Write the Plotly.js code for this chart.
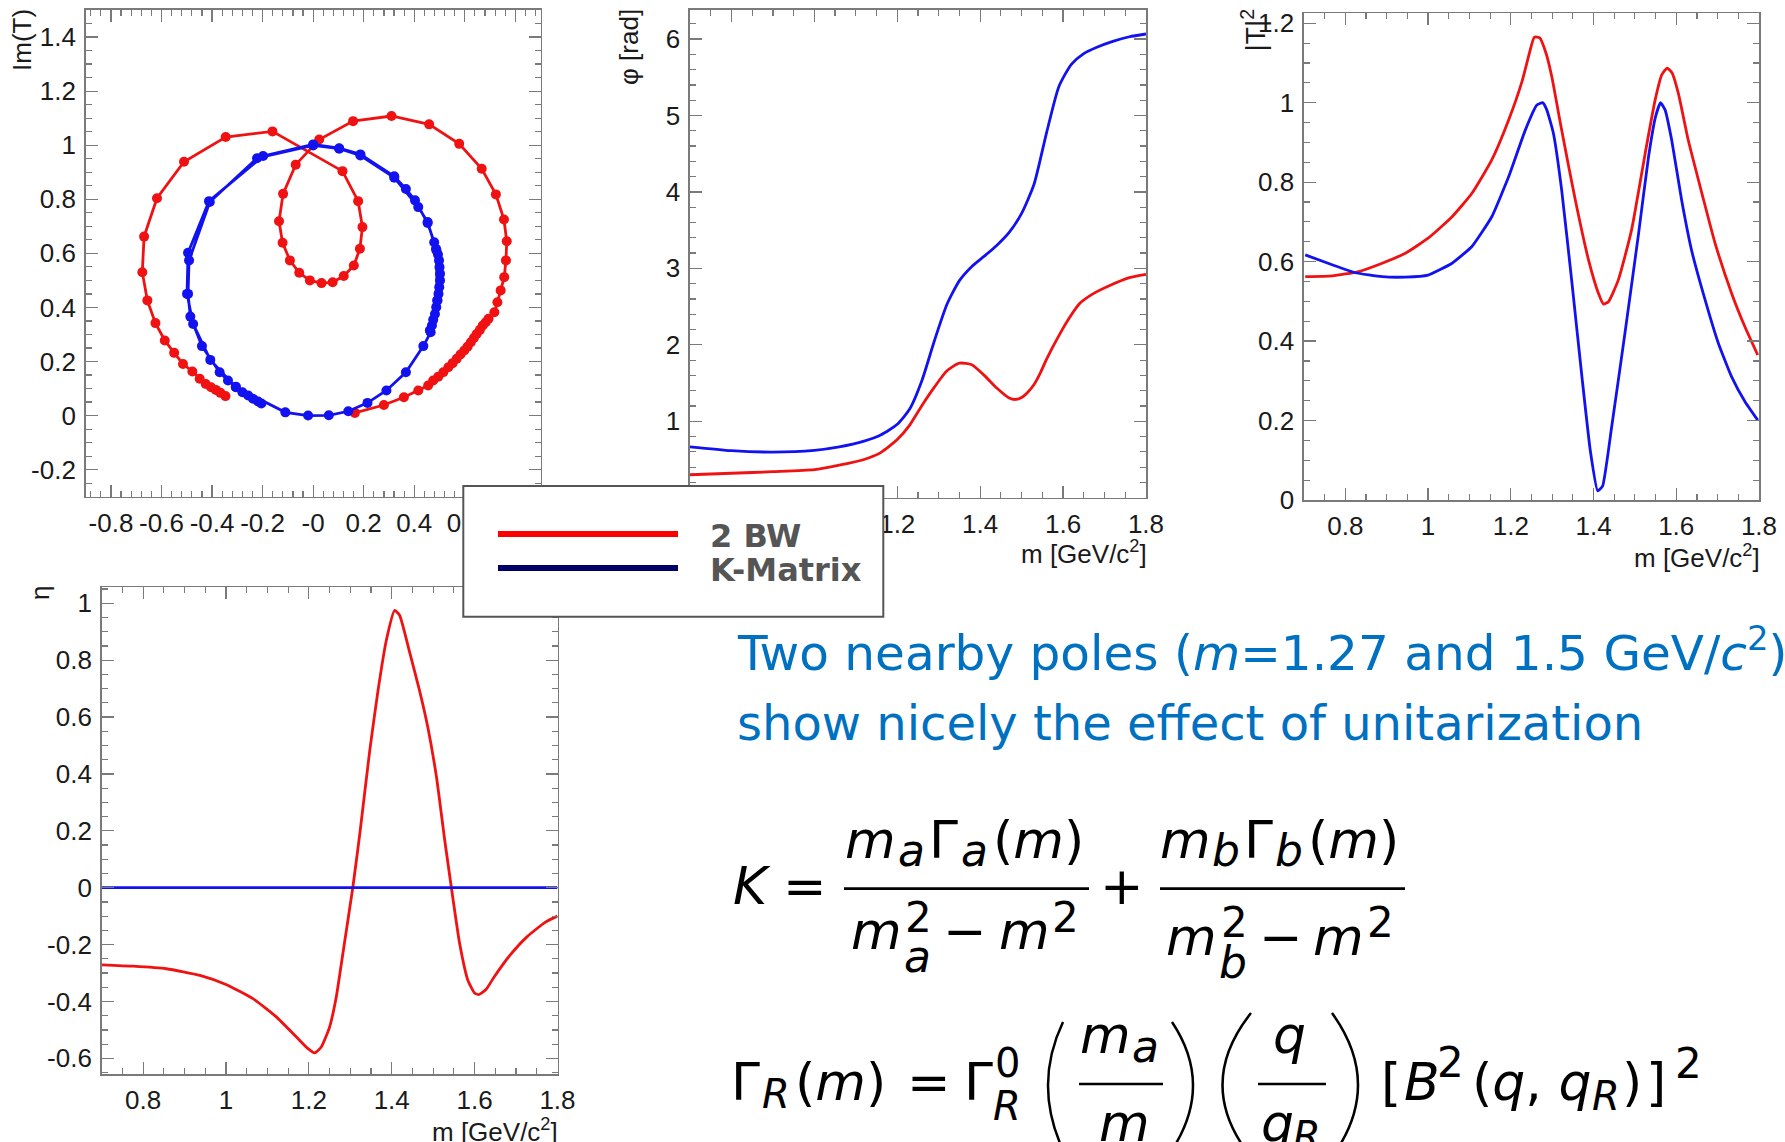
<!DOCTYPE html>
<html><head><meta charset="utf-8">
<script src="https://cdn.plot.ly/plotly-3.0.1.min.js"></script>
<style>html,body{margin:0;padding:0;background:#fff;overflow:hidden}</style>
</head><body><div id="chart" style="width:1785px;height:1142px"></div>
<script>
// ---------------- DATA ----------------
// Argand diagram (Re T, Im T)
const argandRe2BW = [0.165,0.280,0.359,0.416,0.455,0.475,0.495,0.515,0.535,0.552,0.568,0.583,0.598,0.611,0.624,0.636,0.647,0.660,0.671,0.683,0.694,0.717,0.729,0.742,0.756,0.763,0.766,0.755,0.723,0.667,0.578,0.459,0.310,0.158,0.024,-0.069,-0.119,-0.135,-0.121,-0.092,-0.055,-0.013,0.033,0.077,0.121,0.161,0.185,0.195,0.178,0.116,-0.161,-0.346,-0.511,-0.618,-0.669,-0.676,-0.656,-0.624,-0.587,-0.550,-0.515,-0.478,-0.449,-0.425,-0.404,-0.385,-0.367,-0.347];
const argandIm2BW = [0.010,0.039,0.068,0.093,0.111,0.130,0.144,0.160,0.179,0.194,0.210,0.226,0.241,0.255,0.271,0.287,0.302,0.317,0.333,0.345,0.358,0.382,0.419,0.463,0.512,0.574,0.645,0.725,0.818,0.913,1.005,1.077,1.108,1.089,1.021,0.928,0.820,0.719,0.639,0.574,0.528,0.500,0.490,0.493,0.516,0.555,0.617,0.697,0.793,0.904,1.051,1.030,0.939,0.804,0.662,0.530,0.426,0.342,0.278,0.232,0.191,0.163,0.136,0.117,0.105,0.095,0.084,0.072];
const argandReKM = [0.462,0.470,0.475,0.482,0.487,0.492,0.496,0.499,0.502,0.502,0.500,0.498,0.494,0.486,0.479,0.453,0.403,0.367,0.321,0.187,0.103,0.000,-0.198,-0.412,-0.495,-0.499,-0.475,-0.407,-0.306,-0.110,-0.020,0.062,0.139,0.215,0.290,0.367,0.436,0.465,0.491,0.488,0.453,0.416,0.321,0.187,0.103,0.000,-0.222,-0.409,-0.491,-0.495,-0.486,-0.440,-0.370,-0.337,-0.306,-0.280,-0.257,-0.238,-0.218,-0.205];
const argandImKM = [0.315,0.333,0.354,0.376,0.401,0.426,0.450,0.475,0.500,0.524,0.549,0.574,0.596,0.617,0.641,0.712,0.796,0.838,0.885,0.966,0.989,1.003,0.960,0.793,0.602,0.450,0.339,0.206,0.105,0.012,0.000,0.001,0.016,0.047,0.093,0.160,0.257,0.308,0.426,0.611,0.716,0.771,0.880,0.962,0.987,0.999,0.952,0.790,0.574,0.450,0.366,0.257,0.160,0.130,0.107,0.086,0.074,0.062,0.052,0.045];

// Phase phi [rad] vs m
const mPhase2BW = [0.70,0.80,0.90,1.00,1.06,1.12,1.16,1.20,1.23,1.26,1.29,1.32,1.35,1.38,1.41,1.44,1.47,1.485,1.50,1.515,1.53,1.545,1.56,1.59,1.615,1.64,1.67,1.71,1.76,1.80];
const phase2BW  = [0.30,0.32,0.34,0.366,0.425,0.50,0.59,0.76,0.95,1.21,1.45,1.66,1.76,1.74,1.60,1.435,1.305,1.285,1.31,1.38,1.48,1.63,1.81,2.12,2.35,2.54,2.66,2.77,2.88,2.923];
const mPhaseKM  = [0.70,0.80,0.90,1.00,1.06,1.12,1.16,1.20,1.23,1.26,1.29,1.32,1.35,1.38,1.41,1.44,1.47,1.50,1.53,1.56,1.59,1.62,1.65,1.68,1.72,1.76,1.80];
const phaseKM   = [0.665,0.615,0.597,0.62,0.665,0.74,0.82,0.96,1.16,1.54,2.06,2.53,2.84,3.025,3.16,3.30,3.47,3.72,4.10,4.77,5.38,5.67,5.81,5.89,5.97,6.03,6.066];

// |T|^2 vs m
const mInt2BW = [0.703,0.768,0.832,0.889,0.945,1.000,1.058,1.106,1.154,1.195,1.227,1.245,1.257,1.270,1.285,1.299,1.323,1.356,1.388,1.412,1.424,1.436,1.460,1.492,1.525,1.549,1.565,1.578,1.590,1.605,1.629,1.662,1.694,1.734,1.766,1.797];
const int2BW  = [0.562,0.564,0.575,0.596,0.621,0.659,0.713,0.772,0.856,0.957,1.053,1.125,1.165,1.163,1.125,1.066,0.931,0.755,0.604,0.520,0.493,0.499,0.554,0.680,0.873,1.007,1.070,1.087,1.075,1.024,0.906,0.772,0.646,0.520,0.436,0.365];
const mIntKM  = [0.703,0.768,0.824,0.889,0.945,1.000,1.058,1.106,1.154,1.195,1.235,1.263,1.277,1.287,1.303,1.323,1.348,1.372,1.392,1.410,1.422,1.444,1.476,1.509,1.533,1.550,1.562,1.573,1.589,1.613,1.637,1.670,1.702,1.734,1.766,1.797];
const intKM   = [0.617,0.592,0.572,0.562,0.561,0.566,0.596,0.638,0.713,0.814,0.931,0.994,1.000,0.982,0.923,0.780,0.545,0.310,0.126,0.023,0.035,0.185,0.420,0.671,0.864,0.965,1.000,0.982,0.906,0.755,0.629,0.503,0.394,0.310,0.248,0.201];

// Inelasticity eta vs m
const mEta2BW = [0.700,0.776,0.856,0.937,1.000,1.065,1.122,1.170,1.198,1.214,1.230,1.250,1.266,1.282,1.306,1.323,1.347,1.367,1.387,1.407,1.419,1.443,1.467,1.487,1.508,1.528,1.544,1.564,1.584,1.600,1.610,1.628,1.648,1.684,1.727,1.771,1.800];
const eta2BW  = [-0.271,-0.276,-0.285,-0.308,-0.340,-0.390,-0.455,-0.525,-0.566,-0.581,-0.560,-0.490,-0.385,-0.232,0.000,0.190,0.483,0.694,0.870,0.975,0.958,0.829,0.694,0.565,0.389,0.166,0.000,-0.197,-0.326,-0.370,-0.376,-0.357,-0.312,-0.240,-0.172,-0.121,-0.100];
const mEtaKM  = [0.70,1.80];
const etaKM   = [0,0];

// Tick labels
const argXTicks = [-0.8,-0.6,-0.4,-0.2,0,0.2,0.4,0.6,0.8];
const argXText  = ['-0.8','-0.6','-0.4','-0.2','-0','0.2','0.4','0.6','0.8'];
const argYTicks = [-0.2,0,0.2,0.4,0.6,0.8,1,1.2,1.4];
const argYText  = ['-0.2','0','0.2','0.4','0.6','0.8','1','1.2','1.4'];
const mTicks    = [0.8,1,1.2,1.4,1.6,1.8];
const mText     = ['0.8','1','1.2','1.4','1.6','1.8'];
const phaseTicks= [1,2,3,4,5,6];
const phaseText = ['1','2','3','4','5','6'];
const intTicks  = [0,0.2,0.4,0.6,0.8,1,1.2];
const intText   = ['0','0.2','0.4','0.6','0.8','1','1.2'];
const etaTicks  = [-0.6,-0.4,-0.2,0,0.2,0.4,0.6,0.8,1];
const etaText   = ['-0.6','-0.4','-0.2','0','0.2','0.4','0.6','0.8','1'];
const seriesNames = ['2 BW','K-Matrix'];

// ---------------- STYLE / LAYOUT ----------------
const W = 1785, H = 1142;
const px = x => x / W;
const py = y => 1 - y / H;
const RED = '#f01212', BLUE = '#1212f0';
const LS = 'Liberation Sans, Arial, sans-serif';
const TICKFONT = {family:LS, size:26, color:'#1a1a1a'};

function axis(dom, range, tv, tt, minorDt, isX, anchor) {
  return {
    domain: dom, range: range, anchor: anchor,
    tickmode:'array', tickvals: tv, ticktext: tt,
    showline:true, linecolor:'#7a7a7a', linewidth:1.6, mirror:'ticks',
    ticks:'inside', ticklen:12, tickwidth:1.2, tickcolor:'#7a7a7a',
    minor:{tickmode:'linear', tick0:0, dtick:minorDt, ticks:'inside', ticklen:6, tickwidth:1.2, tickcolor:'#7a7a7a', showgrid:false},
    showgrid:false, zeroline:false, tickfont: TICKFONT,
    ticklabelstandoff: isX ? 2 : 3
  };
}

const traces = [
  {x:argandRe2BW, y:argandIm2BW, xaxis:'x', yaxis:'y', mode:'lines+markers', name:seriesNames[0], line:{color:RED, width:2.8}, marker:{color:RED, size:10}},
  {x:argandReKM, y:argandImKM, xaxis:'x', yaxis:'y', mode:'lines+markers', name:seriesNames[1], line:{color:BLUE, width:2.8}, marker:{color:BLUE, size:10}},
  {x:mPhase2BW, y:phase2BW, xaxis:'x2', yaxis:'y2', mode:'lines', name:seriesNames[0], line:{color:RED, width:2.8, shape:'spline', smoothing:0.6}},
  {x:mPhaseKM, y:phaseKM, xaxis:'x2', yaxis:'y2', mode:'lines', name:seriesNames[1], line:{color:BLUE, width:2.8, shape:'spline', smoothing:0.6}},
  {x:mInt2BW, y:int2BW, xaxis:'x3', yaxis:'y3', mode:'lines', name:seriesNames[0], line:{color:RED, width:2.8, shape:'spline', smoothing:0.5}},
  {x:mIntKM, y:intKM, xaxis:'x3', yaxis:'y3', mode:'lines', name:seriesNames[1], line:{color:BLUE, width:2.8, shape:'spline', smoothing:0.4}},
  {x:mEta2BW, y:eta2BW, xaxis:'x4', yaxis:'y4', mode:'lines', name:seriesNames[0], line:{color:RED, width:2.8, shape:'spline', smoothing:0.5}},
  {x:mEtaKM, y:etaKM, xaxis:'x4', yaxis:'y4', mode:'lines', name:seriesNames[1], line:{color:BLUE, width:2.8}}
];

// annotation helpers (positions in page pixels)
function T(text, x, base, size, o) {
  o = o || {};
  return {text:text, xref:'paper', yref:'paper', x:px(x), y:py(base - 0.346*size),
    xanchor:o.anchor||'left', yanchor:'middle', showarrow:false, borderpad:0, borderwidth:0,
    font:{family:o.family||'DejaVu Sans', size:size, color:o.color||'#000'}};
}
function R(text, xc, top, size) {
  return {text:text, xref:'paper', yref:'paper', x:px(xc), y:py(top), xanchor:'center', yanchor:'top',
    textangle:-90, showarrow:false, borderpad:0, borderwidth:0,
    font:{family:LS, size:size, color:'#1a1a1a'}};
}
const annotations = [
  R('Im(T)', 22, 9, 26),
  R('φ [rad]', 629, 9, 26),
  R('|T|<sup>2</sup>', 1254, 9, 28),
  R('η', 40, 586, 26),
  T('m [GeV/c<sup>2</sup>]', 1147, 561, 26, {anchor:'right', family:LS, color:'#1a1a1a'}),
  T('m [GeV/c<sup>2</sup>]', 1760, 565, 26, {anchor:'right', family:LS, color:'#1a1a1a'}),
  T('m [GeV/c<sup>2</sup>]', 558, 1139, 26, {anchor:'right', family:LS, color:'#1a1a1a'}),
  // legend text
  T('<b>' + seriesNames[0] + '</b>', 710, 546.7, 32, {color:'#555'}),
  T('<b>' + seriesNames[1] + '</b>', 710, 581, 32, {color:'#555'}),
  // blue text
  T('Two nearby poles (<i>m</i>=1.27 and 1.5 GeV/<i>c</i><sup>2</sup>)', 737, 666.7, 48.5, {color:'#0070C0'}),
  T('show nicely the effect of unitarization', 737, 740, 48, {color:'#0070C0'}),
  // K formula
  T('<i>K</i>', 733, 904, 52), T('=', 783, 904, 52),
  T('<i>m</i>', 845, 858, 52), T('<i>a</i>', 898, 866, 44), T('Γ', 929, 858, 52), T('<i>a</i>', 961, 866, 44), T('(<i>m</i>)', 993, 858, 52),
  T('<i>m</i>', 851, 949, 52), T('2', 905, 932, 42), T('<i>a</i>', 904, 972, 44), T('−', 943, 949, 52), T('<i>m</i>', 999, 949, 52), T('2', 1052, 932, 42),
  T('+', 1100, 904, 52),
  T('<i>m</i>', 1160, 858, 52), T('<i>b</i>', 1212, 866, 44), T('Γ', 1244, 858, 52), T('<i>b</i>', 1275, 866, 44), T('(<i>m</i>)', 1308, 858, 52),
  T('<i>m</i>', 1166, 955, 52), T('2', 1221, 937, 42), T('<i>b</i>', 1219, 978, 44), T('−', 1259, 955, 52), T('<i>m</i>', 1313, 955, 52), T('2', 1367, 937, 42),
  // Gamma formula
  T('Γ', 731, 1100, 52), T('<i>R</i>', 762, 1108, 40), T('(<i>m</i>)', 795, 1100, 52), T('=', 907, 1100, 52),
  T('Γ', 964, 1100, 52), T('0', 995, 1077, 40), T('<i>R</i>', 993, 1120, 40),
  T('<i>m</i>', 1080, 1053, 52), T('<i>a</i>', 1132, 1062, 44), T('<i>m</i>', 1099, 1141, 52),
  T('<i>q</i>', 1273, 1053, 52), T('<i>q</i>', 1261, 1141, 52), T('<i>R</i>', 1293, 1150, 40),
  T('[', 1381, 1100, 52), T('<i>B</i>', 1404, 1100, 52), T('2', 1437, 1077, 42),
  T('(<i>q</i>, <i>q</i>', 1472, 1100, 52), T('<i>R</i>', 1592, 1110, 40), T(')', 1622, 1100, 52), T(']', 1646, 1100, 52), T('2', 1675, 1078, 42)
];

function L(x0, y0, x1, y1, color, w) {
  return {type:'line', xref:'paper', yref:'paper', x0:px(x0), y0:py(y0), x1:px(x1), y1:py(y1), line:{color:color, width:w}, layer:'above'};
}
function P(x0, y0, cx, cy, y1) {
  return {type:'path', xref:'paper', yref:'paper', layer:'above',
    path:'M ' + px(x0) + ',' + py(y0) + ' Q ' + px(cx) + ',' + py(cy) + ' ' + px(x0) + ',' + py(y1),
    line:{color:'#000', width:2.5}};
}
const shapes = [
  {type:'rect', xref:'paper', yref:'paper', x0:px(463.3), x1:px(883.3), y0:py(616.7), y1:py(486), fillcolor:'#fff', line:{color:'#555', width:2}, layer:'above'},
  L(498, 534, 678, 534, '#ff0000', 6),
  L(498, 568, 678, 568, '#000066', 6),
  L(844, 888.7, 1089, 888.7, '#000', 2.7),
  L(1160, 888.7, 1405, 888.7, '#000', 2.7),
  L(1079, 1084, 1163, 1084, '#000', 2.5),
  L(1258, 1084, 1326, 1084, '#000', 2.5),
  P(1063, 1022, 1033, 1085, 1150),
  P(1172, 1022, 1214, 1085, 1150),
  P(1251, 1013, 1194, 1085, 1157),
  P(1332, 1013, 1384, 1085, 1157)
];

const layout = {
  width: W, height: H, margin:{l:0, r:0, t:0, b:0},
  paper_bgcolor:'#fff', plot_bgcolor:'#fff', showlegend:false,
  xaxis:  axis([px(85.7), px(540.6)], [-0.9, 0.9], argXTicks, argXText, 0.04, true, 'y'),
  yaxis:  axis([py(496.7), py(10)], [-0.3, 1.5], argYTicks, argYText, 0.05, false, 'x'),
  xaxis2: axis([px(690), px(1146)], [0.7, 1.8001], mTicks, mText, 0.05, true, 'y2'),
  yaxis2: axis([py(497.7), py(10)], [0, 6.38], phaseTicks, phaseText, 0.2, false, 'x2'),
  xaxis3: axis([px(1304), px(1759)], [0.7, 1.8001], mTicks, mText, 0.05, true, 'y3'),
  yaxis3: axis([py(500), py(13.3)], [0, 1.225], intTicks, intText, 0.05, false, 'x3'),
  xaxis4: axis([px(101.7), px(557.5)], [0.7, 1.8001], mTicks, mText, 0.05, true, 'y4'),
  yaxis4: axis([py(1074.3), py(587.3)], [-0.656, 1.056], etaTicks, etaText, 0.05, false, 'x4'),
  annotations: annotations,
  shapes: shapes
};

Plotly.newPlot('chart', traces, layout, {staticPlot:true, displayModeBar:false});
</script></body></html>
